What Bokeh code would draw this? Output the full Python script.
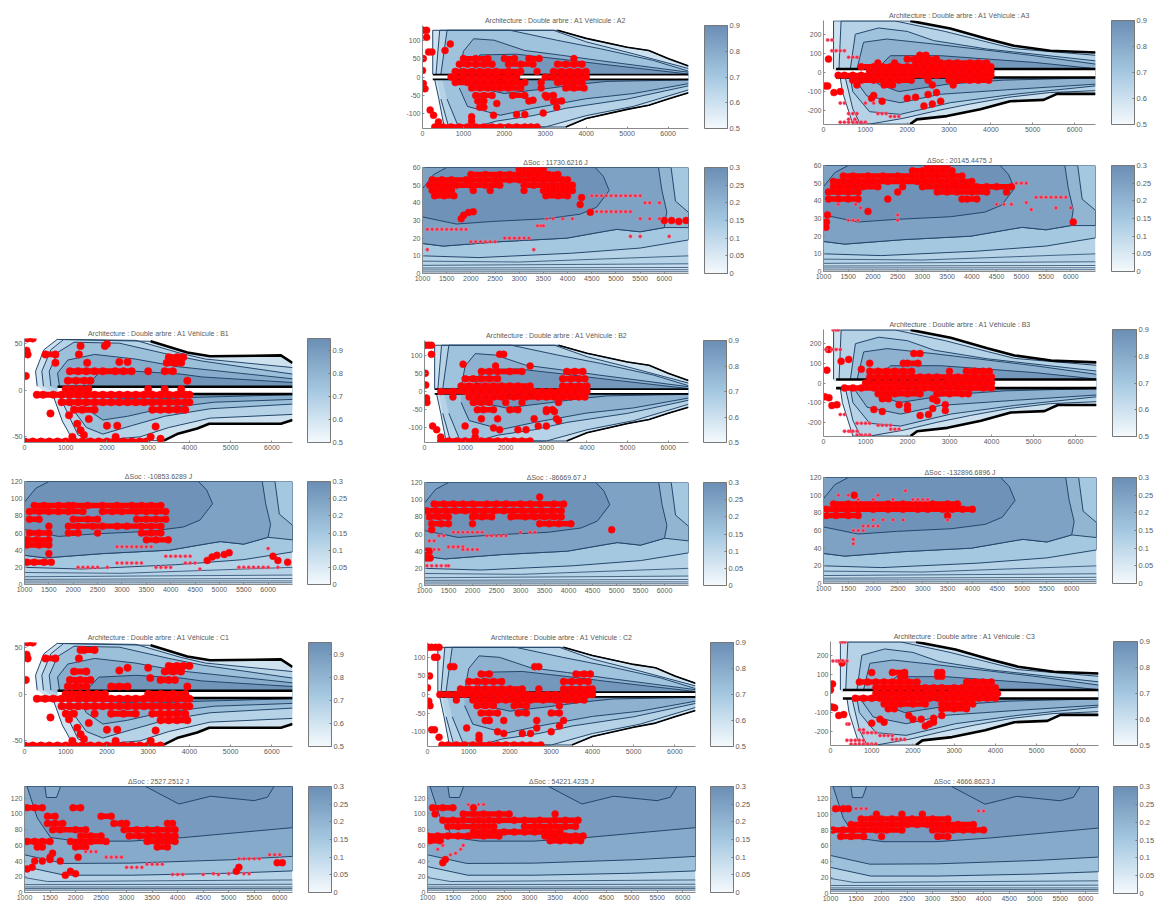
from bokeh.plotting import figure
from bokeh.layouts import row, column
from bokeh.models import Range1d, FixedTicker, ColorBar, LinearColorMapper, Spacer
from bokeh.embed import file_html
from bokeh.resources import INLINE

# ---------- titles ----------
VEHICLES = ["A2", "A3", "B1", "B2", "B3", "C1", "C2", "C3"]
DSOC = {"A2": "11730.6216", "A3": "20145.4475", "B1": "-10853.6289", "B2": "-86669.67",
        "B3": "-132896.6896", "C1": "2527.2512", "C2": "54221.4235", "C3": "4666.8623"}

# ---------- motor maps: (level, upper boundary, lower boundary), speed / torque ----------
M1_REGIONS = [
 (0.60, [(308,4),(267,20),(470,43),(793,54),(3060,52),(3950,40),(4500,36),(6220,37),(6500,29)],
        [(6500,-32),(6220,-36),(4480,-36),(4190,-41),(3700,-47),(3380,-54),(1360,-54),(1117,-49),(915,-33),(712,-8)]),
 (0.66, [(460,4),(420,20),(640,43),(950,54),(2700,53),(3800,39),(4400,33),(6500,24)],
        [(6500,-26),(4500,-30),(3500,-40),(2800,-50),(1700,-54),(1300,-48),(1100,-30),(850,-6)]),
 (0.73, [(640,4),(600,20),(800,40),(1200,51),(2300,50),(3500,38),(4300,31),(6500,17)],
        [(6500,-15),(4500,-20),(3400,-28),(2600,-38),(1900,-47),(1500,-40),(1200,-22),(1000,-5)]),
 (0.80, [(850,4),(800,18),(1050,32),(1700,38),(2700,33),(3700,25),(6500,12)],
        [(6500,-10),(4600,-13),(3300,-20),(2500,-28),(1900,-32),(1500,-20),(1300,-5)]),
 (0.88, [(1500,4),(1800,18),(2700,20),(3800,17),(4300,14),(6500,8)],
        [(6500,-5),(4000,-8),(3000,-10),(2000,-8),(1500,-4)]),
]
M1_ENV = [[(3060,52),(3950,40),(4500,36),(6220,37),(6500,29)],
          [(3380,-54),(3700,-47),(4190,-41),(4480,-36),(6220,-36),(6500,-32)]]
M1_BAND = [(800,3.5),(6500,3.5),(6500,-4.3),(800,-4.3)]

M2_REGIONS = [
 (0.60, [(250,8),(250,127),(3300,127),(4000,105),(5000,81),(5530,72),(6000,50),(6500,30)],
        [(6500,-43),(6000,-60),(5530,-77),(5000,-88),(4000,-113),(3500,-136),(530,-136),(400,-60),(300,-8)]),
 (0.66, [(330,8),(420,127),(3200,127),(4015,95),(5156,63),(6500,23)],
        [(6500,-35),(5150,-80),(4000,-105),(3000,-136),(640,-136),(450,-60)]),
 (0.72, [(450,8),(600,127),(2140,127),(3280,100),(4340,77),(5640,45),(6500,16)],
        [(6500,-24),(5000,-60),(3500,-85),(2700,-105),(1800,-120),(1300,-136),(880,-136),(600,-60)]),
 (0.78, [(900,8),(1000,70),(1250,104),(1750,100),(2500,72),(3400,59),(4300,45),(6500,13)],
        [(6500,-18),(5150,-45),(4000,-59),(2700,-85),(1900,-104),(1100,-80),(900,-30)]),
 (0.87, [(1200,8),(1400,60),(2300,62),(3500,47),(4300,36),(6500,8)],
        [(6500,-8),(4500,-12),(3800,-20),(3000,-32),(2000,-45),(1400,-30),(1200,-8)]),
]
M2_ENV = [[(3300,127),(4000,105),(5000,81),(5530,72),(6000,50),(6500,30)],
          [(3500,-136),(4000,-113),(5000,-88),(5530,-77),(6000,-60),(6500,-43)]]
M2_BAND = [(250,6.5),(6500,6.5),(6500,-6.5),(250,-6.5)]

M3_REGIONS = [
 (0.60, [(240,18),(240,270),(2074,270),(3030,230),(3900,177),(4550,140),(5420,114),(6500,105)],
        [(6500,-112),(5580,-112),(5260,-143),(4460,-150),(3750,-192),(2950,-228),(2230,-245),(2074,-270),(700,-270),(450,-100),(400,-26)]),
 (0.66, [(370,18),(420,270),(1700,270),(2900,215),(3900,160),(4550,125),(6500,90)],
        [(6500,-95),(5400,-105),(4400,-130),(3500,-165),(2700,-200),(1900,-240),(1100,-270),(880,-270),(700,-190),(520,-26)]),
 (0.72, [(640,18),(760,200),(1316,233),(2000,215),(2632,167),(3900,123),(6500,61)],
        [(6500,-70),(4550,-114),(3030,-158),(1834,-219),(1100,-205),(700,-100),(640,-26)]),
 (0.78, [(800,18),(917,123),(957,158),(1515,175),(2632,149),(5024,88),(6500,44)],
        [(6500,-61),(4550,-88),(2790,-114),(1834,-158),(1037,-123),(718,-26)]),
 (0.87, [(1435,18),(1435,53),(1595,88),(2790,88),(5024,53),(6500,20)],
        [(6500,-28),(4300,-40),(3000,-60),(1800,-100),(1300,-60),(1200,-26)]),
]
M3_ENV = [[(2074,270),(3030,230),(3900,177),(4550,140),(5420,114),(6500,105)],
          [(2074,-270),(2230,-245),(2950,-228),(3750,-192),(4460,-150),(5260,-143),(5580,-112),(6500,-112)]]
M3_BAND = [(300,18),(6500,18),(6500,-26),(300,-26)]

# ---------- SOC maps: (level, closed outline), speed / torque ----------
SA_REGIONS = [
 (0.15, [(1000,10),(2170,9),(4100,11.5),(5500,14.4),(6500,19),(6500,60),(1000,60)]),
 (0.20, [(1000,17),(1430,15.5),(2600,18),(3980,20),(4800,24),(5020,25),(5500,23.6),(6000,26),(6500,26),(6500,34.6),(6230,41),(6140,60),(1000,60)]),
 (0.25, [(1000,17),(1430,15.5),(2600,18),(3980,20),(4800,24),(5020,25),(5500,23.6),(6000,26),(6050,35),(5950,47),(5880,60),(1000,60)]),
 (0.29, [(1000,32),(1700,28),(2470,29.5),(3570,31),(4260,33.6),(4600,37.5),(4860,47),(4740,55),(4570,60),(1500,60),(1230,56),(1000,48)]),
]
SB_REGIONS = [
 (0.15, [(1000,20),(2170,18),(4100,23),(5500,29),(6500,38),(6500,120),(1000,120)]),
 (0.20, [(1000,34),(1430,31),(2600,36),(3980,40),(4800,48),(5020,50),(5500,47),(6000,55),(6500,52),(6500,69),(6230,82),(6140,120),(1000,120)]),
 (0.25, [(1000,34),(1430,31),(2600,36),(3980,40),(4800,48),(5020,50),(5500,47),(6000,55),(6050,70),(5950,94),(5880,120),(1000,120)]),
 (0.29, [(1000,64),(1700,56),(2470,59),(3570,62),(4260,67),(4600,75),(4860,94),(4740,110),(4570,120),(1500,120),(1230,112),(1000,96)]),
]
SC_REGIONS = [
 (0.17, [(1000,33),(1790,22),(3100,22),(5000,24.5),(6250,27.5),(6250,135),(1000,135)]),
 (0.23, [(1000,48),(1770,37),(3080,37.4),(5040,41.7),(6250,46),(6250,135),(1000,135)]),
 (0.27, [(1050,135),(1250,95),(1510,70),(2030,65.4),(3080,65.4),(4120,70),(6250,82.6),(6250,135)]),
 (0.29, [(3372,135),(4026,112.7),(4647,122.6),(5497,117),(5758,121.3),(5889,135)]),
 (0.23, [(1400,135),(1430,121),(1627,121),(1706,135)]),
]
SA_LINES = [[(1000,7),(3000,6.5),(6500,10)], [(1000,4.6),(6500,5.5)], [(1000,3.1),(6500,3.4)], [(1000,2),(6500,2.1)], [(1000,0.9),(6500,1)]]
SB_LINES = [[(1000,14),(3000,13),(6500,20)], [(1000,9),(6500,11)], [(1000,6),(6500,7)], [(1000,4),(6500,4.2)], [(1000,1.8),(6500,2)]]
SC_LINES = [[(1000,19),(1450,14),(6250,16)], [(1000,10),(6250,10.5)], [(1000,7),(6250,7)], [(1000,5),(6250,5)], [(1000,3),(6250,3)]]
S_LOW_LEVELS = [0.12, 0.09, 0.06, 0.035, 0.012]

# ---------- operating points: {torque row: [speeds]} plus single (speed, torque) points ----------
A2_M = {127:[20,100], 50:[1000,1300,1600,2000,2250,2600,2850,3700], 35:[900,1100,1300,1500,1700,2100,2400,2700,3300,3500,3700,3900],
 15:[800,1000,1200,1400,1600,1800,2100,2400,2800,3200,3400,3600,3800,4000], 0:[700,1000,1200,1400,1600,1800,2100,2300,3000,3200,3400,3600,3800,4000],
 -15:[800,1100,1300,1500,1700,2000,2200,2500,2900,3300,3500,3700,3900], -30:[1200,1400,1600,1900,2100,2400,2900,3500,3700,3950],
 -50:[1300,1500,1700,2200,2500,3000,3200], -65:[1350,1500,2600,3200,3400], -82:[1400,1500],
 -136:[300,500,700,900,1100,1300,1500,1700,1900,2100,2300,2500,2650,2800]}
A2_M_P = [(100,108),(150,68),(20,50),(0,18),(20,-18),(60,-32),(680,90),(550,72),(230,68),(1816,-72),(2700,-63),(3040,-55),(3280,-82),(1200,-108),(1200,-120),(1735,-104),(2300,-102),(2500,-102),(2950,-98),(187,-90),(270,-104),(390,-122)]
A2_S = {59:[3000,3200,3300,3500], 56:[2000,2300,2600,2800,3000,3200,3400,3600,3800], 53:[1200,1400,1600,1900,2200,2500,2800,3000,3300,3500,3700,3900,4000],
 50:[1150,1300,1500,1700,2000,2300,2600,3100,3300,3500,3700,3900,4100], 47:[1200,1400,1600,2050,2400,3100,3500,3700,3900,4100], 44:[1250,1450,1650,3550,3800,4000]}
A2_S_P = [(1800,31),(1850,33),(1950,34.5),(2050,35),(4260,39),(4470,34.6),(4290,43),(6000,30),(6150,30),(6300,29.5),(6450,30)]
A2_S_T = {25:[1100,1200,1300,1400,1500,1600,1700,1800,1900], 18:[2000,2100,2200,2300,2400,2500], 20:[2700,2800,2900,3000,3100,3200], 44:[4500,4600,4700,4800,4900,5000,5100,5200,5300,5400,5500],
 35:[4600,4700,4800,4900,5000,5100,5200,5300], 31:[3570,3700,3900,4100,5500,5700,5900], 40:[5600,5700,5900], 21:[5300,5500,6100], 27:[3380,3450,3500], 13.5:[3300,1100]}

A3_M = {90:[2300,2450], 70:[2000,2200,2500,2700], 50:[1300,1700,2200,2500,2800,3000,3200,3500,3700,3900],
 30:[900,1200,1400,1600,1800,2000,2200,2400,2600,2800,3000,3200,3400,3600,3800,4000], 5:[1100,1300,1500,1700,1900,2100,2300,2500,2700,2900,3100,3300,3500,3700,3900,4000],
 -15:[350,500,700,900,1100,1300,1500,1700,1900,2100,2400,2700,3000,3300,3600,3900,4000], -40:[700,900,1200,1400,1600,1800,2100,2500,3000,3200,3500,3700,3950], -65:[800,1450,1650,2600,3100]}
A3_M_P = [(120,70),(40,-70),(100,-70),(250,-105),(400,-100),(1200,-120),(1150,-135),(1400,-150),(2000,-135),(2200,-130),(2500,-115),(2700,-105),(2800,-150),(2400,-175),(2600,-165)]
A3_M_T = {170:[100,200], 114:[200,300,400,500], 80:[600,700,800], -160:[400,500,1000,1200], -215:[600,700,800,1300,1400,1500], -230:[1600,1700,1800], -260:[400,500,600,700,800,900,1000], -245:[600,750]}
A3_S = {60:[3100,3300,3500], 57:[2800,3000,3200,3400,3600], 54:[1400,1600,1900,2200,2500,2800,3000,3300,3600,3800],
 51:[1200,1400,1700,2000,2300,2600,2900,3200,3500,3800,4000], 48:[1200,1500,1800,2100,2600,3000,3300,3500,3800,4100,4300,4500,4800],
 45:[1100,1300,1500,1700,2500,3300,3500,3700,4000,4300,4700], 41:[1100,1300,1500,1700,2300,3800,3900,4100]}
A3_S_P = [(1900,34),(1080,32),(1060,28),(1050,25),(6050,28)]
A3_S_T = {42:[5300,5400,5500,5600,5700,5800,5900], 38:[1300,1650,4500,4650,4800], 36:[1750,5700,6000], 29:[1500,1600,1700,2500], 39:[5100], 35:[5200], 32:[2500], 50:[4900,5000,5100]}

B1_M = {55:[70,200], 47:[1360], 38:[1320,510,750], 35:[3500,3700,3850], 29:[750,1520,3450,3650,3800], 20:[1100,1300,1500,1700,1900,2200,2400,2600,3400,3600,3000],
 10:[1050,1250,1450,1600,3950], 1:[1000,1150,1350,1550,3000,3400,3800], -5:[300,450,700,900,1100,1300,1500,1700,1900,2100,2300,2500,2700,2900,3100,3300,3500,3700,3900,4000],
 -13:[900,1100,1300,1500,1700,1900,2100,2300,2500,2700,2900,3100,3300,3500,3700,3900,4000], -21:[1200,1400,1700,3100,3300,3500,3700,3900],
 -55:[0,200,400,600,800,1000,1200,1400,1600,1800,2000,2200,2400,2600,2800,2950]}
B1_M_P = [(50,42),(75,38),(30,15),(2000,49),(1950,47),(2300,30),(2500,30),(630,-25),(1080,-27),(1280,-36),(1360,-43),(1160,-50),(1440,-48),(2000,-38),(2250,-38),(3180,-39),(2210,-50),(3060,-50),(3300,-52),(1560,-31)]
B1_S = {92:[1200,1400,1700,1900,2000,2300,2600,2900,3200,3400,3600,3800], 85:[1100,1300,1500,1700,1900,2200,2600,2800,3000,3300,3500,3700,3900],
 76:[1100,1300,2000,2300,2500,3300,3500,3700,3900], 68:[1500,1900,2100,2400,2600,2900,3100,3400,3600,3800], 60:[1100,1300,1500,1900,2100,2500,3400,3600,3800],
 52:[1050,1250,1500,3500,3700,3950], 46:[1050,1300,1500], 26:[1050,1200,1400,1550]}
B1_S_P = [(1500,36),(4750,28),(4850,32),(4950,34),(5100,35),(5200,37),(6100,33),(6200,28),(6400,26)]
B1_S_T = {44:[2900,3000,3100,3200,3300,3400,3500,3600], 33:[3900,4000,4100,4200,4300,4400], 25:[2900,3000,3100,3200,3300,3400,4300,4400,4500], 20:[2100,2200,2300,2400,2500,2700,3700,3800,3900,4000,5400,5500,5600,5700,5800,5900,6000,6200], 18:[4600], 42:[6000]}

B2_M = {127:[20,100,170], 102:[1950,1850,170], 55:[1400,1600,1800,2100,2400,3500,3700,3900], 35:[1000,1200,1400,1600,1800,3400,3600,3800,3950],
 15:[900,1100,1300,1500,1700,1900,2100,2300,2600,3400,3600,3800,4000], 0:[400,700,1000,1200,1400,1600,1800,2000,2200,2400,2700,2900,3100,3300,3500,3700,3900,4000],
 -15:[700,1100,1300,1500,1700,1900,2200,2500,2800,3000,3200,3400,3600,3800,3950], -30:[1200,1400,1600,2000,2400,3300],
 -50:[1300,1450,1700,2100,2300,3000,3150], -75:[1400,1800,2700,3250], -136:[400,600,800,1000,1200,1400,1600,1800,2000,2200,2400,2600]}
B2_M_P = [(20,50),(30,18),(50,-18),(60,-30),(950,75),(1750,70),(2600,70),(200,-95),(300,-105),(400,-125),(1000,-95),(1250,-110),(1250,-125),(1700,-100),(1850,-105),(2300,-105),(2500,-105),(2800,-95),(3000,-95),(3300,-80),(3000,-55),(3200,-55)]
B2_S = {95:[1200,1400,1600,1800,2000,2300,2500,2700,3000,3200,3400,3700,3900], 87:[1050,1250,1450,1650,1850,2050,2250,2450,2650,2850,3050,3250,3450,3650,3850],
 80:[1100,1300,1500,2000,2200,2400,2800,3100,3300,3500,3700,3850], 72:[1150,1350,1500,2000,3400,3600,3800,4050], 40:[1050,1100], 32:[1050,1120]}
B2_S_P = [(1150,65),(4900,65),(3400,103)]
B2_S_T = {62:[1600,1700,1800,1900,2000,2100,2200,3000,3200,3300], 58:[1300,1400,2300,2400,2500,2600,2700], 52:[1100,1200], 45:[1500,1600,1700,1800], 42:[1800,1900,2000,2100,1300,1200], 23:[1050,1150,1250,1350,1450,1500]}

B3_M = {150:[2300,2150], 100:[1900,2000,2250], 60:[1100,1300,1500,1700,1900,2100,3000,3400,3600,3800,3950], 30:[1100,1300,1500,1700,1900,2100,2300,2500,2700,3000,3200,3400,3600,3800,4000],
 0:[1000,1300,1500,1700,1900,2100,2400,2700,2900,3100,3300,3500,3700,3900,4000], -25:[500,700,900,1200,1400,1600,1800,2000,2200,2400,2600,2800,3000,3200,3500,3800,4000],
 -55:[1300,1500,1700,2000,2300,2700,3000,3300,3450], -80:[1400,2600,1550]}
B3_M_P = [(120,170),(80,65),(30,-70),(130,-75),(200,-115),(320,-110),(600,120),(900,70),(1100,100),(420,110),(1200,-135),(1400,-145),(1800,-110),(2000,-115),(2000,-135),(2700,-90),(2600,-130),(2900,-140),(2300,-165),(2500,-160),(2900,-110)]
B3_M_T = {270:[230,300,350], 170:[60,200,300,400], -160:[400,500], -205:[800,900,1000,1100], -215:[1300,1400,1500,1600], -235:[1600,1700,1800], -265:[800,900,1000,1100], -245:[500,600,650,700,800]}
B3_S = {90:[1200,1500,1700,2000,2300,2600,2900,3200,3500,3700], 84:[1050,1250,1450,1700,2000,2300,2600,2900,3100,3400,3600,3800,4000], 77:[1050,1250,1500,1700,3500]}
B3_S_P = [(1620,100)]
B3_S_T = {95:[1700,2000,2400,2800,3100,2900,3000], 100:[1300,1500,2100], 105:[2650], 72:[2000,2200,2400,2600,3500], 65:[1800,1900,2000,2100], 60:[1600,1700,1800], 50:[1600], 45:[1600]}

C1_M = {55:[70,200], 47:[1360,1450,1700], 38:[1320,510,750], 30:[3500,3700,3850,4000], 24:[1200,1500,3400,3600,3800], 15:[1100,1350,1600,3300,3500,3650], 8:[1050,1250,1500,2300,2500,3950,2100],
 0:[1000,1150,1350,1550,1750,1950,3000,3300,3600,3900], -5:[300,500,700,900,1100,1300,1500,1700,1900,2100,2300,2500,2700,2900,3100,3300,3500,3700,3900,4000],
 -13:[900,1100,1300,1500,1700,1900,2100,2300,2500,2700,2900,3100,3300,3500,3700,3900,4000], -21:[1000,1200,1700,2100,2400,2700,3100,3300,3500,3700,3900], -28:[3300,3500,3700,3950],
 -55:[0,200,400,600,800,1000,1200,1400,1600,1800,2000,2200,2400,2600,2800,3000,3300]}
C1_M_P = [(50,42),(75,38),(30,15),(2300,25),(2500,28),(3000,28),(3050,17),(630,-25),(1080,-27),(1280,-36),(1360,-43),(1160,-50),(1440,-48),(2000,-38),(2250,-38),(3180,-39),(2210,-50),(3060,-50),(1560,-31)]
C1_S = {108:[1050,1200,1350,1950,2100], 97:[1450,1600,2500,2700], 88:[1450,1600,1750,2750,2900,3000,3800,3900], 80:[1550,1700,2000,2200,2950,3200,3400,3600,3800,3950],
 72:[2100,2300,2500,3050,3250,3450,3650,3800,3950], 65:[1050,1200,1350,1500,1900,2100,2300,2600,3400,3600,3800,3950], 58:[1250,1350,2000,2200,3600,3800]}
C1_S_P = [(1550,50),(1500,45),(1200,40),(1350,40),(1500,42),(1700,40),(2050,45),(1050,30),(1150,32),(1800,22),(1900,27),(2000,24),(5200,32),(5150,27),(5950,38),(6050,38)]
C1_S_T = {52:[2200,2300,2400], 45:[2600,2700,2800,2900], 32:[3000,3100,3200,3300], 36:[3400,3500,3600,3700], 23:[3900,4000,4100,4500,4800], 24:[4700,5000,5300,5400], 43:[5200,5300,5400,5500,5600], 48:[5800,5900,6000]}

C2_M = {127:[20,100,200,280], 100:[170,230], 75:[640,560,2600,2700], 55:[1300,1500,3600,3800,3950], 35:[1000,1200,1400,1600,1800,3300,3500,3700,3900],
 15:[800,1000,1200,1400,1600,1800,2000,2300,2700,3300,3500,3700,3900,4000], 0:[300,500,700,900,1100,1300,1500,1700,1900,2100,2400,2700,2900,3100,3300,3500,3700,3900,4000],
 -15:[700,1100,1300,1500,1700,1900,2200,2500,2800,3100,3400,3600,3800], -30:[1200,1400,1600,2100,2400,3200], -50:[1300,1500,1700,2200,2400,3000,3200], -70:[1400,1500,1850,2650,3300],
 -136:[350,500,700,900,1100,1300,1500,1700,1900,2100,2300,2500,2750]}
C2_M_P = [(50,50),(0,18),(30,-18),(60,-30),(100,-95),(170,-95),(280,-115),(950,-90),(1250,-110),(1250,-120),(1700,-100),(1850,-105),(2300,-105),(2500,-105),(2650,-90),(3000,-100),(3200,-85)]
C2_S = {108:[1100,1300,1500,1900], 100:[1150,1700,1900,2100,2400,2600,3500], 92:[1300,1500,1700,2000,2200,2400,2700,2900,3200,3500,3700,3950], 84:[1400,1600,1900,2100,2300,2900,3100,3400,3700,3900],
 77:[1900,2100,2300,2500,2700,2900,3100,3300,3600], 72:[1000,1200,1400,1600,1800,2100,2400,3300,3500,3700,3900,4050], 66:[1050,1250,3400,3600,3800,4000]}
C2_S_P = [(1350,42),(1300,38)]
C2_S_T = {60:[1700,1300], 55:[1650,1200], 50:[1550], 48:[1450], 112:[1800,2000,2100]}

C3_M = {160:[280], 110:[2600,2700,1000,1500,1800], 90:[1700,1800,2600,2700], 60:[700,900,1100,1300,1500,1700,1900,2100,3300,3500,3700,3900], 30:[1100,1300,1500,1700,1900,2100,2300,2500,2700,3000,3200,3400,3600,3800,4000],
 0:[1100,1300,1500,1700,1900,2100,2400,2700,2900,3100,3300,3500,3700,3900,4050], -25:[600,800,1000,1200,1400,1600,1800,2000,2200,2400,2600,2800,3000,3200,3400,3600,3800,4000],
 -55:[1300,1500,1700,2000,2300,2700,3000,3300,3450], -80:[1400,1550,2700,3000,3300]}
C3_M_P = [(30,-70),(100,-75),(200,-115),(320,-110),(50,50),(0,20),(1000,-155),(1200,-135),(1300,-150),(1900,-115),(2000,-135),(2200,-135),(2500,-130),(2700,-115),(2400,-160),(2500,-150),(2300,-170)]
C3_M_T = {270:[250,300,350], 170:[60,150,200,300,400], -160:[400,450], -205:[800,900,1000,1100], -220:[1200,1300,1400,1500], -240:[1500,1600,1700,1800], -265:[500,600,700,800,900,1000,1100], -245:[400,500,600,700,800], -190:[700,800]}
C3_S = {107:[1100,1250,1350], 100:[1900,2400,2800], 94:[1600,1800,2000,2200,2400,2600,2800,3000,3300], 87:[1400,1600,1800,2000,2200,2500,2700,2900,3100,3300,3500,3800],
 80:[1050,1250,1450,1650,1900,2100,2400,3000,3200,3400,3600,3800,4000], 72:[1200,1400,1650,2000,3100,3300]}
C3_S_T = {107:[1500,1600,1700], 104:[3900,4000]}

# ---------- page geometry in reference pixels: left, right, cb left, cb right, motor top/bottom, soc top/bottom ----------
GEOM = {"A2":(422,688,704,727,25,128,167,273), "B2":(424,688,703,726,340,442,482,585), "C2":(427,695,710,733,642,746,786,892),
        "A3":(823,1095,1111,1134,20,124,165,271), "B3":(823,1096,1112,1136,329,436,477,583), "C3":(830,1098,1113,1137,641,745,786,893),
        "B1":(24,292,307,330,338,442,481,584), "C1":(24,292,308,331,642,746,786,892)}
COLUMNS = [(0, 400, [None, "B1", "C1"]), (400, 400, ["A2", "B2", "C2"]), (800, 355, ["A3", "B3", "C3"])]

STOPS = [(0.0, (245,250,253)), (0.5, (165,200,225)), (1.0, (107,143,181))]
INK = "#5a5a5a"
LINE = "#24476b"
RED = "#ff0000"

def shade(t):
    t = max(0.0, min(1.0, t))
    for (a, ca), (b, cb) in zip(STOPS, STOPS[1:]):
        if t <= b:
            f = (t - a) / (b - a)
            return "#%02x%02x%02x" % tuple(round(ca[i] + (cb[i] - ca[i]) * f) for i in range(3))
    return "#6b8fb5"

PALETTE = [shade(i / 255) for i in range(256)]

def expand(rows):
    xs, ys = [], []
    for y, speeds in rows.items():
        for x in speeds:
            xs.append(x); ys.append(y)
    return xs, ys

def xy(points):
    return [p[0] for p in points], [p[1] for p in points]

def make(x0, x1, y0, y1, pos, title, xt, yt, cb_range, cb_ticks, gap):
    left, w, right, top, h, bottom = pos
    p = figure(width=left + w + right, height=top + h + bottom, x_range=Range1d(x0, x1), y_range=Range1d(y0, y1),
               output_backend="svg", toolbar_location=None, min_border_left=left, min_border_top=top,
               min_border_right=right, min_border_bottom=bottom, title=title, background_fill_color="white",
               outline_line_color=None)
    p.grid.visible = False
    p.title.text_font = "Liberation Sans"; p.title.text_font_size = "7px"; p.title.text_color = INK
    p.title.text_font_style = "normal"; p.title.align = "center"; p.title.standoff = 4
    for ax, ticks in ((p.xaxis[0], xt), (p.yaxis[0], yt)):
        ax.ticker = FixedTicker(ticks=ticks)
        ax.major_label_overrides = {t: str(t) for t in ticks}
        ax.major_label_text_font = "Liberation Sans"; ax.major_label_text_font_size = "7px"
        ax.major_label_text_color = INK; ax.major_label_standoff = 2
        ax.axis_line_color = "#8a8a8a"; ax.major_tick_line_color = "#8a8a8a"
        ax.major_tick_in = 2; ax.major_tick_out = 0; ax.minor_tick_line_color = None
    lo, hi = cb_range
    mapper = LinearColorMapper(palette=PALETTE, low=lo, high=hi)
    cb = ColorBar(color_mapper=mapper, ticker=FixedTicker(ticks=cb_ticks), width=gap[1], height=h,
                  padding=0, margin=0, location=(w + gap[0], 0),
                  major_label_overrides={t: ("%g" % t) for t in cb_ticks},
                  major_label_text_font="Liberation Sans", major_label_text_font_size="7.5px",
                  major_label_text_color=INK, bar_line_color="#777777", bar_line_width=1,
                  major_tick_line_color="#777777", major_tick_in=2, minor_tick_line_color=None, label_standoff=2)
    p.add_layout(cb, "center")
    return p, lo, hi

def draw_dots(p, dense, single, thin, size):
    # rows of close points merge into solid bands, as the overlapping stars do in the picture
    x0, x1, yy = [], [], []
    for y, speeds in dense.items():
        s = sorted(speeds)
        for a, b in zip(s, s[1:]):
            if b - a <= 300:
                x0.append(a); x1.append(b); yy.append(y)
    p.segment(x0, yy, x1, yy, line_color=RED, line_width=size * 0.78)
    xs, ys = expand(dense); a, b = xy(single)
    p.scatter(xs + a, ys + b, size=size, marker="circle", color=RED, line_color="#f01020", line_width=0.5)
    if thin:
        tx, ty = expand(thin)
        p.scatter(tx, ty, size=3.6, marker="circle", color="#f02a45", line_color="#f58aa0", line_width=0.5)

MOTOR = {"1": (M1_REGIONS, M1_ENV, M1_BAND, (-56, 55), [-50, 0, 50], 2.6, 7.5),
         "2": (M2_REGIONS, M2_ENV, M2_BAND, (-140, 140), [-100, -50, 0, 50, 100], 1.6, 7),
         "3": (M3_REGIONS, M3_ENV, M3_BAND, (-272, 272), [-200, -100, 0, 100, 200], 2.6, 7)}
SOC = {"A": (SA_REGIONS, SA_LINES, (0, 60), [0, 10, 20, 30, 40, 50, 60], 6500, list(range(1000, 6500, 500))),
       "B": (SB_REGIONS, SB_LINES, (0, 120), [0, 20, 40, 60, 80, 100, 120], 6500, list(range(1000, 6500, 500))),
       "C": (SC_REGIONS, SC_LINES, (0, 135), [0, 20, 40, 60, 80, 100, 120], 6250, list(range(1000, 6500, 500)))}
DATA = {"A2": (A2_M, A2_M_P, None, A2_S, A2_S_P, A2_S_T), "A3": (A3_M, A3_M_P, A3_M_T, A3_S, A3_S_P, A3_S_T),
        "B1": (B1_M, B1_M_P, None, B1_S, B1_S_P, B1_S_T), "B2": (B2_M, B2_M_P, None, B2_S, B2_S_P, B2_S_T),
        "B3": (B3_M, B3_M_P, B3_M_T, B3_S, B3_S_P, B3_S_T), "C1": (C1_M, C1_M_P, None, C1_S, C1_S_P, C1_S_T),
        "C2": (C2_M, C2_M_P, None, C2_S, C2_S_P, C2_S_T), "C3": (C3_M, C3_M_P, C3_M_T, C3_S, [], C3_S_T)}

def motor_panel(v, pos, gap):
    reg, env, band, yr, yt, w_env, size = MOTOR[v[1]]
    cb_r = (0.5, 0.95) if v[1] == "1" else (0.5, 0.9)
    p, lo, hi = make(0, 6500, yr[0], yr[1], pos, "Architecture : Double arbre : A1 Véhicule : " + v,
                     [0, 1000, 2000, 3000, 4000, 5000, 6000], yt, cb_r, [0.5, 0.6, 0.7, 0.8, 0.9], gap)
    for level, up, low in reg:
        xs, ys = xy(up + low)
        p.patch(xs, ys, fill_color=shade((level - lo) / (0.9 - lo)), line_color=None)
    for level, up, low in reg:
        for part in (up, low):
            lx, ly = xy(part)
            p.line(lx, ly, line_color=LINE, line_width=1)
    bx, by = xy(band)
    p.patch(bx, by, fill_color="white", line_color=None)
    p.line(bx[:2], by[:2], line_color="black", line_width=w_env)
    p.line(bx[2:], by[2:], line_color="black", line_width=w_env)
    for e in env:
        ex, ey = xy(e)
        p.line(ex, ey, line_color="black", line_width=w_env)
    dense, single, thin = DATA[v][:3]
    draw_dots(p, dense, single, thin, size)
    return p

def soc_panel(v, pos, gap):
    reg, lines, yr, yt, xmax, xt = SOC[v[0]]
    p, lo, hi = make(1000, xmax, yr[0], yr[1], pos, "ΔSoc : " + DSOC[v] + " J", xt, yt, (0, 0.3),
                     [0, 0.05, 0.1, 0.15, 0.2, 0.25, 0.3], gap)
    p.quad(left=[1000], right=[xmax], bottom=[yr[0]], top=[yr[1]], fill_color=shade(0.12 / 0.3), line_color=None)
    for level, poly in reg:
        xs, ys = xy(poly)
        p.patch(xs, ys, fill_color=shade(level / 0.3), line_color=LINE, line_width=1)
    for level, l in zip(S_LOW_LEVELS, lines):
        lx, ly = xy(l)
        p.varea(lx, [yr[0]] * len(lx), ly, fill_color=shade(level / 0.3))
    for l in lines:
        lx, ly = xy(l)
        p.line(lx, ly, line_color=LINE, line_width=0.8)
    dense, single, thin = DATA[v][3:]
    draw_dots(p, dense, single, thin, 7)
    return p

cols = []
for cstart, cwidth, names in COLUMNS:
    items = []
    cursor = 0
    for v in names:
        if v is None:
            items.append(Spacer(width=cwidth, height=314))
            cursor = 314
            continue
        l, r, cl, cr, mt, mb, st, sb = GEOM[v]
        gap = (cl - r, cr - cl)
        for kind, (t, b) in (("m", (mt, mb)), ("s", (st, sb))):
            end = min(b + 14, 904)
            pos = (l - cstart, r - l, cstart + cwidth - r, t - cursor, b - t, end - b)
            fig = motor_panel(v, pos, gap) if kind == "m" else soc_panel(v, pos, gap)
            items.append(row(fig, spacing=0))
            cursor = end
    cols.append(column(*items, spacing=0))

page = row(*cols, spacing=0)
open("out.html", "w").write(file_html(page, INLINE))
